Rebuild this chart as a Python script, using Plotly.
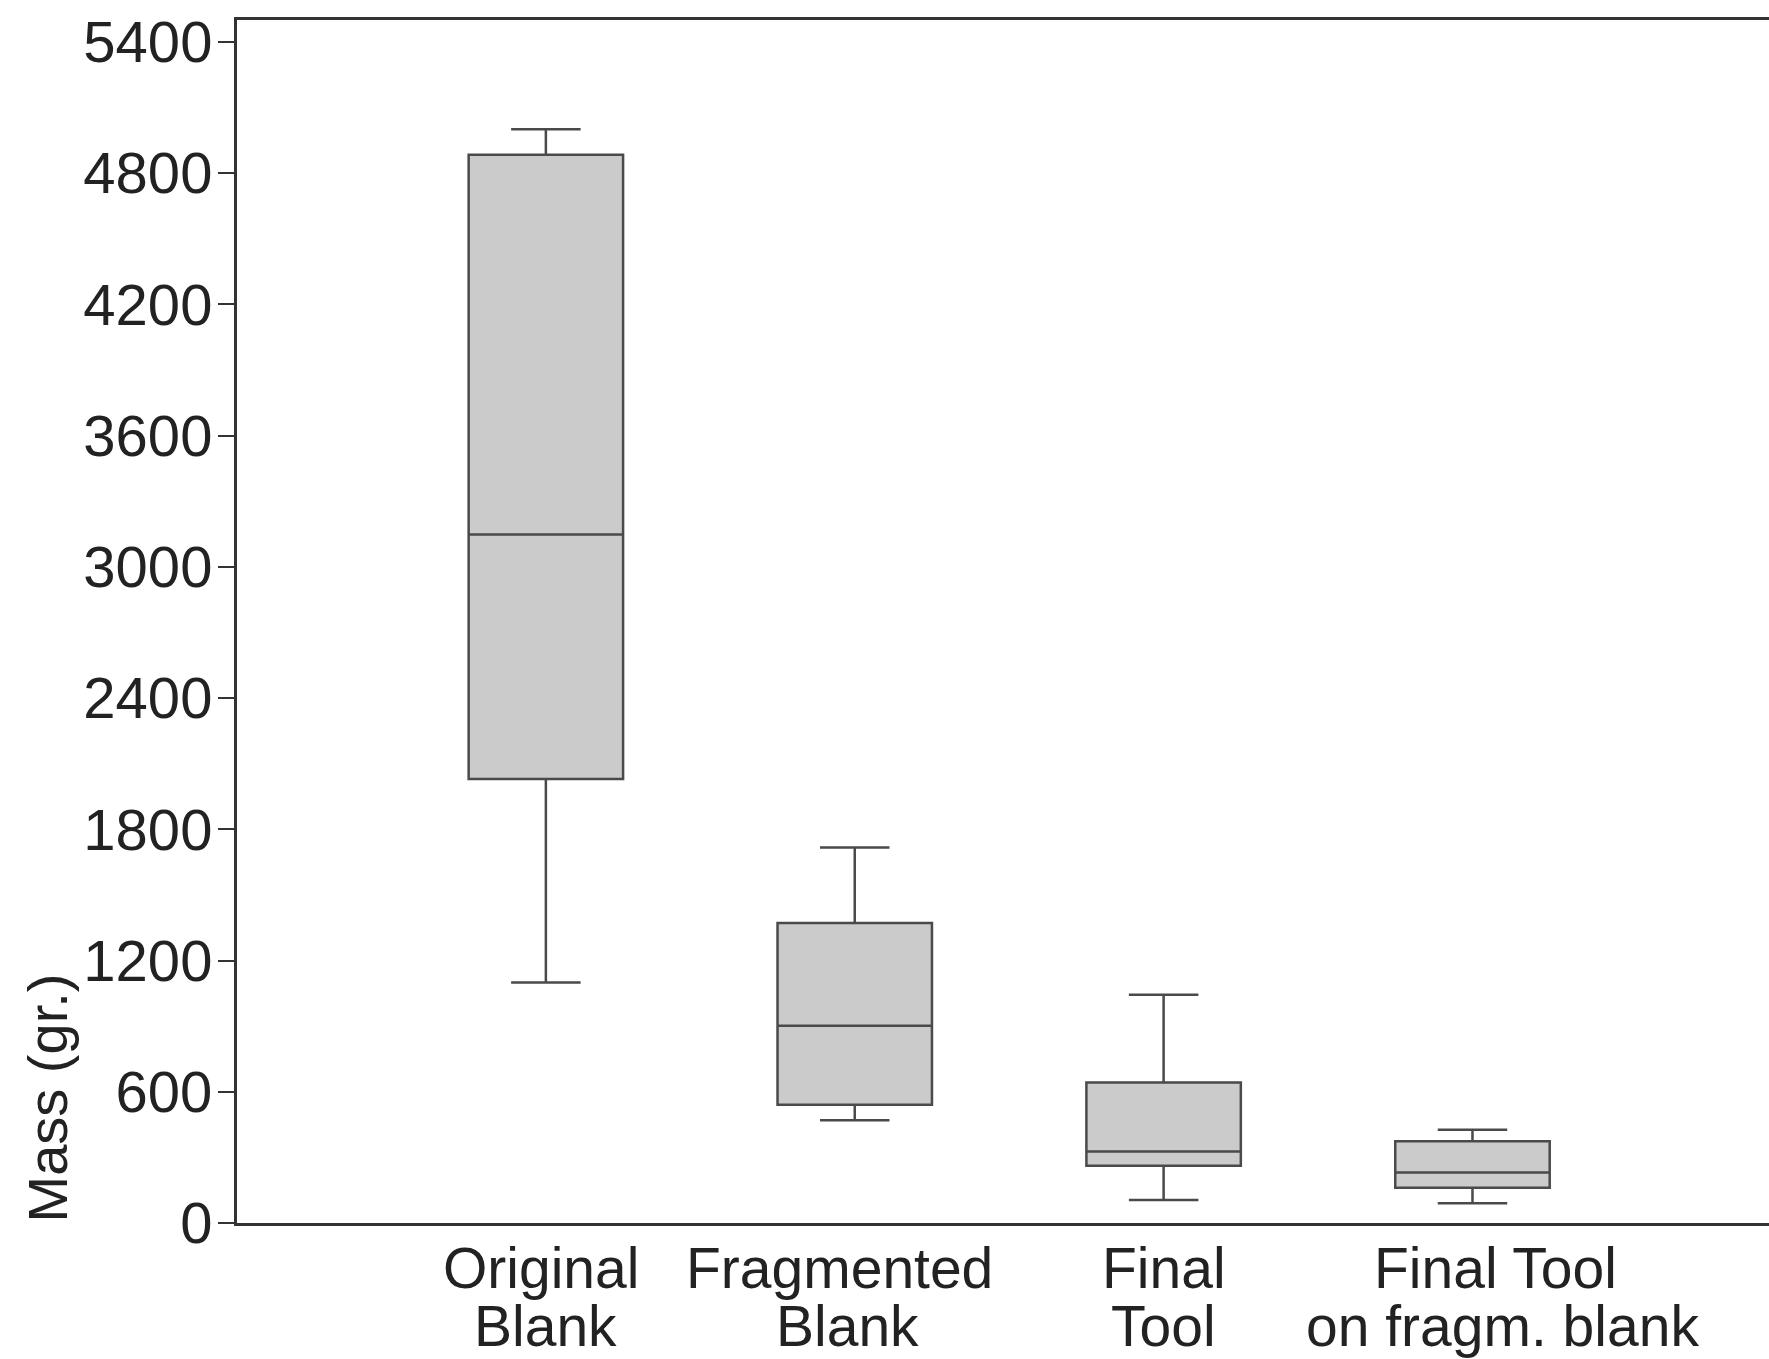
import plotly.graph_objects as go

categories = ["Original Blank", "Fragmented Blank", "Final Tool", "Final Tool on fragm. blank"]
label_line1 = ["Original", "Fragmented", "Final", "Final Tool"]
label_line2 = ["Blank", "Blank", "Tool", "on fragm. blank"]
lower_whisker = [1100, 470, 105, 90]
q1 = [2030, 541, 262, 161]
median = [3148, 902, 327, 231]
q3 = [4884, 1372, 642, 374]
upper_whisker = [5000, 1717, 1044, 426]
y_ticks = [0, 600, 1200, 1800, 2400, 3000, 3600, 4200, 4800, 5400]

FONT = "Liberation Sans, Arial, sans-serif"
TXT = "#222222"

# small horizontal nudges of the category labels (pixels), as in the original figure
shift_line1 = [-5, -15, 0, 23]
shift_line2 = [0, -7, 0, 30]

fig = go.Figure()
fig.add_trace(go.Box(
    x=categories,
    q1=q1, median=median, q3=q3,
    lowerfence=lower_whisker, upperfence=upper_whisker,
    fillcolor="#cbcbcb",
    line=dict(color="#4a4a4a", width=2.5),
    width=0.5,
    whiskerwidth=0.45,
    boxpoints=False,
    showlegend=False,
    hoverinfo="skip",
))

for cat, l1, l2, s1, s2 in zip(categories, label_line1, label_line2, shift_line1, shift_line2):
    fig.add_annotation(x=cat, xref="x", y=0, yref="paper", text=l1, showarrow=False,
                       yanchor="middle", yshift=-45, xshift=s1,
                       font=dict(family=FONT, size=57, color=TXT))
    fig.add_annotation(x=cat, xref="x", y=0, yref="paper", text=l2, showarrow=False,
                       yanchor="middle", yshift=-103, xshift=s2,
                       font=dict(family=FONT, size=57, color=TXT))

fig.add_annotation(x=0, xref="paper", y=0, yref="paper", text="Mass (gr.)", showarrow=False,
                   textangle=-90, xanchor="center", yanchor="bottom", xshift=-190, yshift=-2,
                   font=dict(family=FONT, size=56, color=TXT))

fig.update_layout(
    width=1769, height=1359,
    margin=dict(l=237, r=0, t=20, b=136),
    plot_bgcolor="white", paper_bgcolor="white",
    font=dict(family=FONT, size=58, color=TXT),
    xaxis=dict(
        type="category", range=[-1, 3.96],
        showticklabels=False, ticks="",
        showline=True, linecolor="#333333", linewidth=3, mirror=True,
        showgrid=False, zeroline=False,
    ),
    yaxis=dict(
        range=[0, 5500], tickvals=y_ticks, ticktext=[str(v) for v in y_ticks],
        ticks="outside", ticklen=16, tickwidth=2, tickcolor="#333333",
        ticklabelstandoff=-6,
        showline=True, linecolor="#333333", linewidth=3,
        showgrid=False, zeroline=False,
        tickfont=dict(family=FONT, size=58, color=TXT),
    ),
)

fig.write_html("out.html")
